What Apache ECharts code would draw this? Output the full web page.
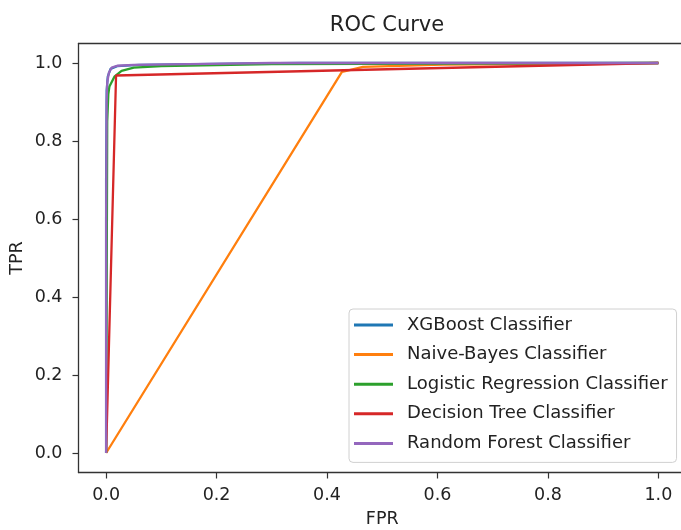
<!DOCTYPE html>
<html>
<head>
<meta charset="utf-8">
<script src="https://cdn.jsdelivr.net/npm/echarts@6/dist/echarts.min.js"></script>
<style>
  html, body { margin: 0; padding: 0; background: #fff; }
  #chart { width: 681px; height: 530px; }
</style>
</head>
<body>
<div id="chart"></div>
<script>
// ROC curve points (false positive rate / true positive rate) per classifier
const fprXgb = [0, 0, 0.001, 0.003, 0.008, 0.02, 0.06, 0.2, 0.35, 1];
const tprXgb = [0, 0.7, 0.93, 0.965, 0.985, 0.992, 0.995, 0.998, 1, 1];

const fprNb = [0, 0.427, 0.435, 0.465, 0.61, 1];
const tprNb = [0, 0.977, 0.98, 0.99, 0.996, 1];

const fprLr = [0, 0.002, 0.004, 0.006, 0.015, 0.028, 0.05, 0.1, 0.3, 1];
const tprLr = [0, 0.85, 0.92, 0.94, 0.965, 0.98, 0.988, 0.992, 0.997, 1];

const fprDt = [0, 0.018, 1];
const tprDt = [0, 0.968, 1];

const fprRf = [0, 0, 0.001, 0.002, 0.005, 0.01, 0.02, 0.05, 0.15, 0.3, 1];
const tprRf = [0, 0.6, 0.9, 0.95, 0.975, 0.988, 0.993, 0.995, 0.997, 1, 1];

const seriesNames = [
  'XGBoost Classifier',
  'Naive-Bayes Classifier',
  'Logistic Regression Classifier',
  'Decision Tree Classifier',
  'Random Forest Classifier'
];
const seriesColors = ['#1f77b4', '#ff7f0e', '#2ca02c', '#d62728', '#9467bd'];
const curves = [[fprXgb, tprXgb], [fprNb, tprNb], [fprLr, tprLr], [fprDt, tprDt], [fprRf, tprRf]];

const tickValues = [0, 0.2, 0.4, 0.6, 0.8, 1.0];

const FONT = 'DejaVu Sans';
const chart = echarts.init(document.getElementById('chart'), null, { renderer: 'canvas' });

const spine = { show: true, onZero: false, lineStyle: { color: '#333', width: 1.3 } };

const axisCommon = {
  type: 'value',
  min: -0.05,
  max: 1.05,
  splitLine: { show: false },
  axisLine: spine,
  axisTick: {
    show: true, inside: false, length: 6,
    lineStyle: { color: '#333', width: 1.2 },
    customValues: tickValues
  },
  axisLabel: {
    show: true,
    customValues: tickValues,
    formatter: v => v.toFixed(1),
    fontFamily: FONT, fontSize: 17.5, color: '#222'
  },
  nameLocation: 'middle',
  nameMoveOverlap: false,
  nameTextStyle: { fontFamily: FONT, fontSize: 17.5, color: '#222' }
};

chart.setOption({
  animation: false,
  backgroundColor: '#fff',
  title: {
    text: 'ROC Curve',
    left: 382,
    top: 10,
    textAlign: 'center',
    textStyle: { fontFamily: FONT, fontSize: 21, fontWeight: 'normal', color: '#222' }
  },
  // plot box runs a few pixels past the right edge of the canvas
  grid: {
    left: 78.5, top: 43.5, width: 607.5, height: 429,
    outerBoundsMode: 'none',
    containLabel: false,
    show: false
  },
  xAxis: [
    Object.assign({}, axisCommon, {
      position: 'bottom',
      name: 'FPR', nameGap: 38,
      axisLabel: Object.assign({}, axisCommon.axisLabel, { margin: 14 })
    }),
    // top spine only
    {
      type: 'value', position: 'top', min: -0.05, max: 1.05,
      axisLine: spine, axisTick: { show: false }, axisLabel: { show: false },
      splitLine: { show: false }
    }
  ],
  yAxis: Object.assign({}, axisCommon, {
    position: 'left',
    name: 'TPR', nameGap: 52,
    axisLabel: Object.assign({}, axisCommon.axisLabel, { margin: 16 })
  }),
  legend: {
    orient: 'vertical',
    left: 349, top: 309,
    padding: [6, 9, 9, 5],
    itemGap: 9.6,
    itemWidth: 39, itemHeight: 3,
    icon: 'rect',
    backgroundColor: 'rgba(255,255,255,0.8)',
    borderColor: '#d0d0d0', borderWidth: 1, borderRadius: 4,
    textStyle: { fontFamily: FONT, fontSize: 18, color: '#222', lineHeight: 20, padding: [0, 0, 0, 9] },
    data: seriesNames
  },
  series: curves.map((c, i) => ({
    name: seriesNames[i],
    type: 'line',
    symbol: 'none',
    xAxisIndex: 0,
    color: seriesColors[i],
    lineStyle: { width: 2.3, color: seriesColors[i] },
    z: 2 + i,
    data: c[0].map((x, k) => [x, c[1][k]])
  }))
});
</script>
</body>
</html>
